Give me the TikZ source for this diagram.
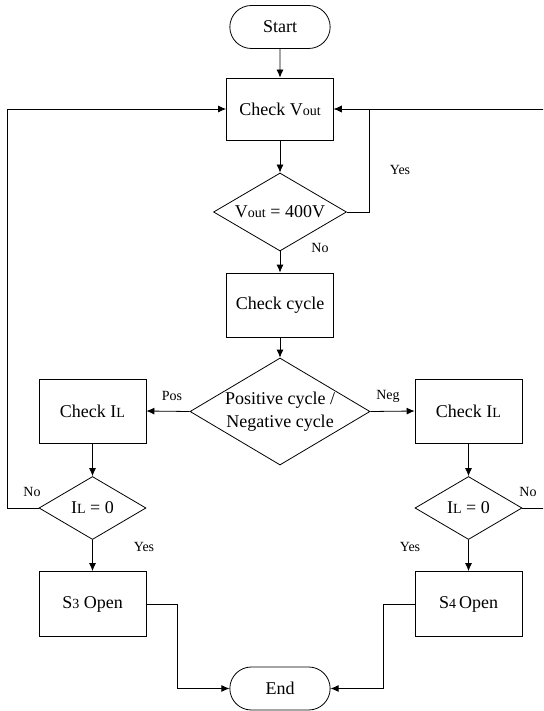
\documentclass[tikz,border=0pt]{standalone}
\usepackage{fontspec}
\setmainfont{Liberation Serif}
\usepackage{tikz}
\usetikzlibrary{shapes.geometric, shapes.misc, arrows.meta, calc}
\newcommand{\lowtxt}[1]{{\fontsize{14}{14}\selectfont #1}}
\tikzstyle{terminal} = [
    rounded rectangle, draw, line width=0.8pt,
    minimum width=107pt, minimum height=43pt,
    font=\fontsize{18}{22}\selectfont
]
\tikzstyle{process} = [
    rectangle, draw, line width=0.8pt,
    minimum width=107pt, minimum height=64pt,
    font=\fontsize{18}{22}\selectfont
]
\tikzstyle{decision} = [
    diamond, draw, line width=0.8pt, aspect=1.68, inner sep=0pt,
    align=center, font=\fontsize{18}{23}\selectfont
]
\tikzstyle{arrow} = [
    line width=0.8pt,
    -{Latex[length=8pt,width=7pt]}
]
\tikzstyle{tag} = [font=\fontsize{14}{16}\selectfont]

\begin{document}
\begin{tikzpicture}[x=1pt, y=-1pt]
        \clip (0,0) rectangle (543,711);

        % Top part
        \node[terminal] (start) at (280, 27) {Start};
        \node[process, minimum height=62pt] (vout) at (280, 109) {Check V\lowtxt{out}};
        \node[decision, minimum width=133pt, minimum height=78pt] (vdec) at (280, 212) {V\lowtxt{out} = 400V};
        \node[process] (cycle) at (280, 305) {Check cycle};
        \node[decision, minimum width=180pt, minimum height=107pt] (pn) at (280, 411.5) {Positive cycle /\\Negative cycle};

        % Positive branch
        \node[process] (ilL) at (92.5, 411) {Check I\lowtxt{L}};
        \node[decision, minimum width=107pt, minimum height=63pt] (ildecL) at (92.5, 508) {I\lowtxt{L} = 0};
        \node[process, minimum height=65pt] (s3) at (92.5, 604) {S\lowtxt{3} Open};

        % Negative branch
        \node[process] (ilR) at (468.5, 411) {Check I\lowtxt{L}};
        \node[decision, minimum width=107pt, minimum height=63pt] (ildecR) at (468.5, 508) {I\lowtxt{L} = 0};
        \node[process, minimum height=65pt] (s4) at (468.5, 604) {S\lowtxt{4}\,Open};

        \node[terminal] (end) at (280, 688.5) {End};

        % Arrows
        \draw[arrow] (start) -- (vout);
        \draw[arrow] (vout) -- (vdec);
        \draw[arrow] (vdec.east) -- ++(22,0) |- (vout.east);
        \draw[arrow] (vdec) -- (cycle);
        \draw[arrow] (cycle) -- (pn);
        \draw[arrow] (pn.west) -- (ilL.east);
        \draw[arrow] (pn.east) -- (ilR.west);
        \draw[arrow] (ilL) -- (ildecL);
        \draw[arrow] (ildecL) -- (s3);
        \draw[arrow] (ilR) -- (ildecR);
        \draw[arrow] (ildecR) -- (s4);
        \draw[arrow] (ildecL.west) -- (7, 508) |- (vout.west);
        \draw[arrow] (ildecR.east) -- (548, 508) |- (vout.east);
        \draw[arrow] (s3.east) -- (177, 604) |- (end.west);
        \draw[arrow] (s4.west) -- (383, 604) |- (end.east);

        % Labels
        \node[tag] (yes1) at (400, 170) {Yes};
        \node[tag] (no1) at (320, 248) {No};
        \node[tag] (pos) at (172, 396) {Pos};
        \node[tag] (neg) at (388, 396) {Neg};
        \node[tag] (no2) at (32, 492) {No};
        \node[tag] (yes2) at (144, 547) {Yes};
        \node[tag] (no3) at (528, 492) {No};
        \node[tag] (yes3) at (410, 547) {Yes};
    \end{tikzpicture}
\end{document}
